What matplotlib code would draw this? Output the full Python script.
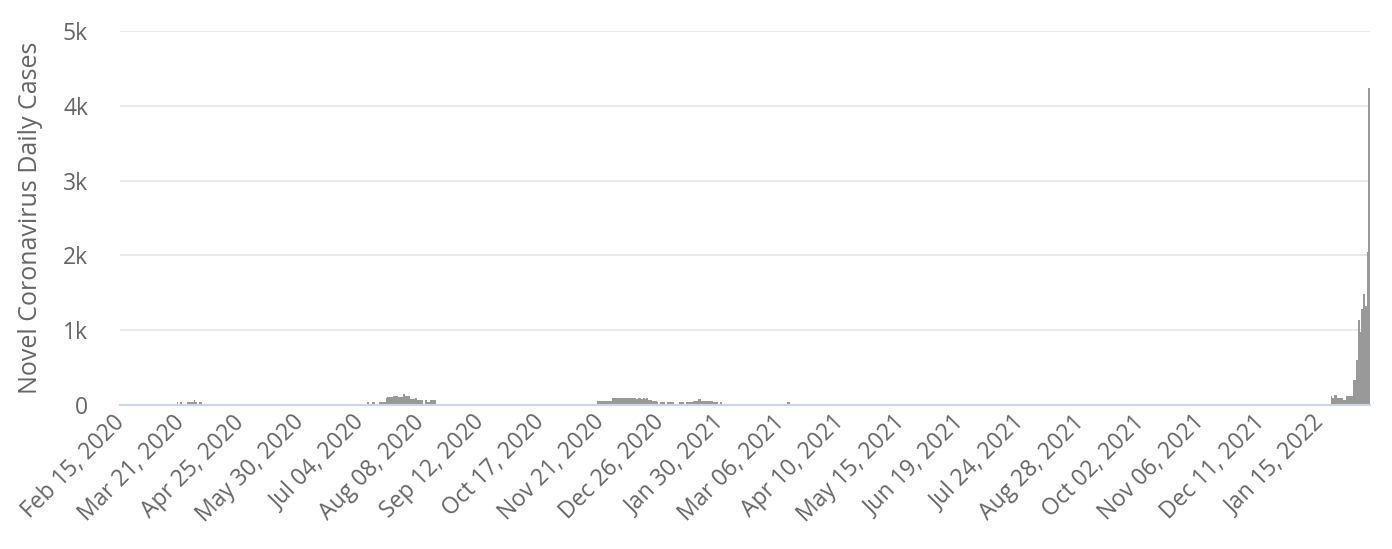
import numpy as np
import pandas as pd
import matplotlib
matplotlib.use('Agg')
from matplotlib import pyplot as plt
from matplotlib.ticker import FuncFormatter

plt.rcParams['font.family'] = ['Open Sans', 'DejaVu Sans']

# daily cases, day 0 = Feb 15, 2020, 729 days in all; days not listed are 0
start_date = '2020-02-15'
n_days = 729

mar_2020_start = 33
mar_2020 = [35, 0, 35, 0, 0, 0, 35, 35, 35, 35, 65, 35, 0, 35, 35]

summer_2020_start = 144
summer_2020 = [35, 0, 0, 35, 35, 0, 0, 35, 35, 35, 35, 90, 110, 110, 110,
               125, 125, 125, 110, 110, 110, 145, 120, 120, 120, 80, 80, 80,
               98, 70, 70, 70, 70, 0, 65, 35, 35, 65, 65, 65]

winter_2020_start = 278
winter_2020 = [58, 58, 58, 58, 58, 58, 58, 58, 58,
               90, 90, 90,
               98, 90, 98, 98, 90, 98, 98,
               90, 90,
               90, 98, 80, 90, 98, 85, 90, 80, 90,
               65, 65,
               55, 55, 55,
               35, 0, 35,
               45, 45, 0, 45, 45,
               35, 35, 0,
               0, 0, 35,
               35, 35, 0, 35, 35, 35, 35,
               55, 55, 55,
               75, 75,
               55, 55,
               55, 55, 55, 55, 55,
               35, 35, 35,
               0, 35]

mar_2021_start = 389
mar_2021 = [35, 35]

jan_2022_start = 706
jan_2022 = [120, 100, 140, 140, 95, 95, 95, 65, 65, 120, 120, 120, 120,
            335, 335, 600, 1135, 980, 1290, 1485, 1320, 2045, 4240]

dates = pd.date_range(start_date, periods=n_days, freq='D')
cases = np.zeros(n_days)
for s, vals in [(mar_2020_start, mar_2020), (summer_2020_start, summer_2020),
                (winter_2020_start, winter_2020), (mar_2021_start, mar_2021),
                (jan_2022_start, jan_2022)]:
    cases[s:s + len(vals)] = vals

tick_step = 35
y_ticks = [0, 1000, 2000, 3000, 4000, 5000]

text_col = '#666666'

fig = plt.figure(figsize=(13.92, 5.49), dpi=100)
ax = fig.add_axes([120 / 1392, 1 - 405 / 549, 1250 / 1392, 374 / 549])

x = np.arange(n_days)
ax.bar(x, cases, width=1.0, color='#999999', linewidth=0, zorder=3)

ax.set_xlim(-0.5, n_days - 0.5)
ax.set_ylim(0, 5000)

ax.set_yticks(y_ticks)
ax.yaxis.set_major_formatter(FuncFormatter(lambda v, p: '0' if v == 0 else f'{int(v / 1000)}k'))
ax.yaxis.grid(True, color='#e6e6e6', linewidth=1.2, zorder=0)
ax.tick_params(axis='y', length=0, pad=23, labelsize=16.5, labelcolor=text_col)

ticks = x[::tick_step]
ax.set_xticks(ticks)
ax.set_xticklabels([dates[i].strftime('%b %d, %Y') for i in ticks],
                   rotation=45, ha='right', va='center', rotation_mode='anchor')
ax.tick_params(axis='x', length=0, pad=10, labelsize=16.5, labelcolor=text_col)

for side in ['top', 'right', 'left']:
    ax.spines[side].set_visible(False)
ax.spines['bottom'].set_color('#ccd6eb')
ax.spines['bottom'].set_linewidth(1.5)
ax.spines['bottom'].set_zorder(4)

ax.set_ylabel('Novel Coronavirus Daily Cases', fontsize=18, color=text_col, labelpad=14)

fig.savefig('out.png', dpi=100)
